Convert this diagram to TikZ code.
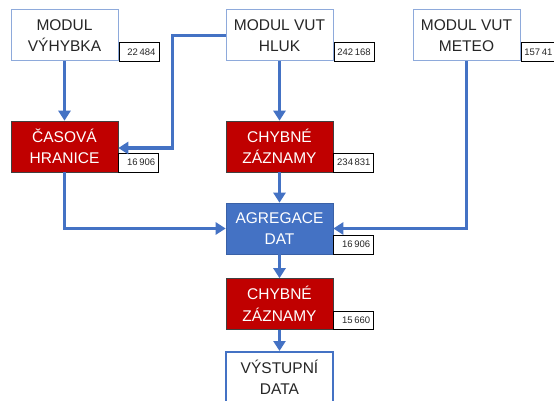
\documentclass[tikz,border=0pt]{standalone}
\usepackage{fontspec}
\setmainfont{Liberation Sans}
\usepackage{tikz}
\usetikzlibrary{arrows.meta,positioning}
\definecolor{FlowBlue}{RGB}{68,114,196}
\definecolor{BoxRed}{RGB}{192,0,0}
\definecolor{EdgeBlue}{RGB}{142,170,219}
\definecolor{TextGray}{RGB}{38,38,38}

\begin{document}
\begin{tikzpicture}[x=1pt, y=-1pt,
    box/.style={minimum width=107pt, minimum height=51pt, inner sep=0pt, align=center, font=\fontsize{15.5}{21.5}\selectfont},
    source/.style={box, draw=EdgeBlue, line width=1pt, fill=white, text=TextGray},
    filter/.style={box, draw=black!75, line width=0.6pt, fill=BoxRed, text=white},
    merge/.style={box, draw=FlowBlue!85!black, line width=0.6pt, fill=FlowBlue, text=white},
    target/.style={box, draw=FlowBlue, line width=2pt, fill=white, text=TextGray},
    count/.style={anchor=south west, draw=black, line width=0.8pt, fill=white, minimum height=18.5pt, text width=33pt, align=right, inner xsep=3.5pt, inner ysep=0pt, font=\fontsize{9.5}{10}\selectfont, text=TextGray},
    flow/.style={-{Triangle[length=10pt,width=12pt]}, line width=3.3pt, FlowBlue}]
  \useasboundingbox (0,0) rectangle (554,401);
  % sources
  \node[source] (vyhybka) at (64.5,35.5) {MODUL\\VÝHYBKA};
  \node[source] (hluk) at (279.5,35.5) {MODUL VUT\\HLUK};
  \node[source] (meteo) at (466.5,35.5) {MODUL VUT\\METEO};
  % processing
  \node[filter] (hranice) at (64.5,146.5) {ČASOVÁ\\HRANICE};
  \node[filter] (chybne) at (279.5,146.5) {CHYBNÉ\\ZÁZNAMY};
  \node[merge] (agregace) at (279.5,228.5) {AGREGACE\\DAT};
  \node[filter] (chybne2) at (279.5,304) {CHYBNÉ\\ZÁZNAMY};
  \node[target] (vystup) at (279.5,377.5) {VÝSTUPNÍ\\DATA};
  % record counts
  \node[count] (nvyhybka) at (vyhybka.south east) {22\,484};
  \node[count] (nhluk) at (hluk.south east) {242\,168};
  \node[count, align=left] (nmeteo) at (meteo.south east) {157\,41};
  \node[count] (nhranice) at (hranice.south east) {16\,906};
  \node[count] (nchybne) at (chybne.south east) {234\,831};
  \node[count] (nagregace) at (agregace.south east) {16\,906};
  \node[count] (nchybne2) at (chybne2.south east) {15\,660};
  % flows
  \draw[flow] (vyhybka.south) -- (hranice.north);
  \draw[flow] (hluk.west) -- ++(-53,0) |- ([yshift=-1.5pt]hranice.east);
  \draw[flow] (hluk.south) -- (chybne.north);
  \draw[flow] (hranice.south) |- (agregace.west);
  \draw[flow] (chybne.south) -- (agregace.north);
  \draw[flow] (meteo.south) |- (agregace.east);
  \draw[flow] (agregace.south) -- (chybne2.north);
  \draw[flow] (chybne2.south) -- (vystup.north);
\end{tikzpicture}
\end{document}
